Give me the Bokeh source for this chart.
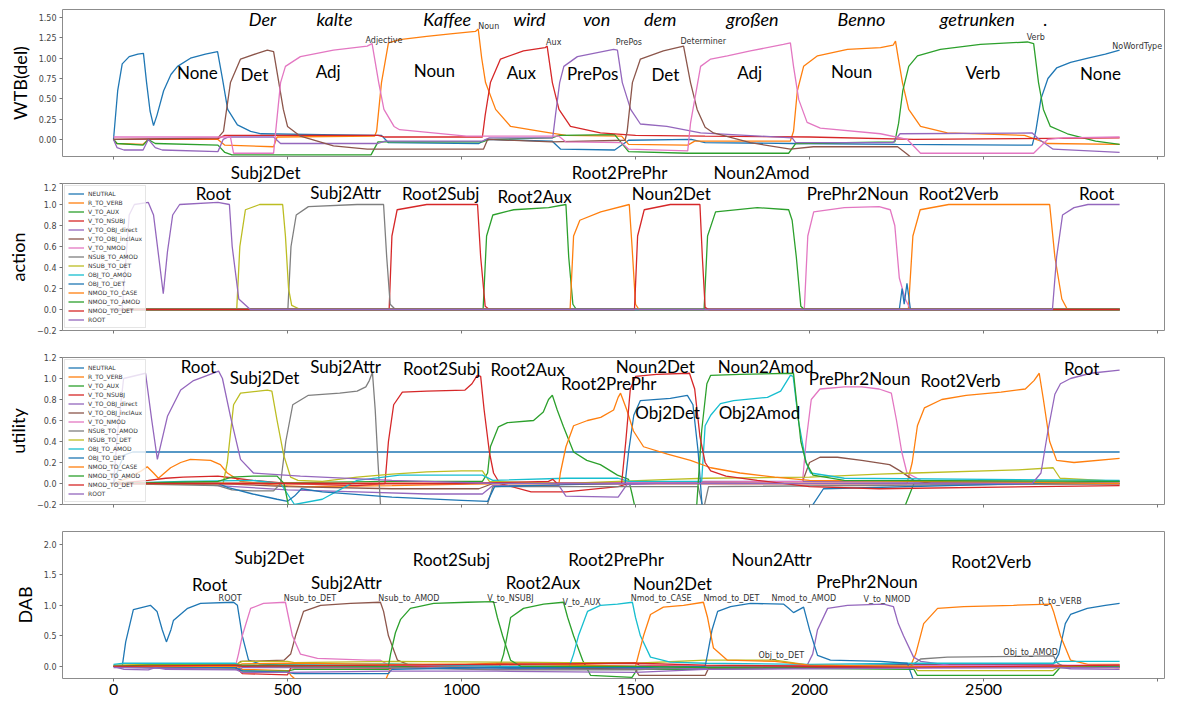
from bokeh.plotting import figure
from bokeh.layouts import column
from bokeh.models import Label, Legend, LegendItem, Range1d, FixedTicker
from bokeh.embed import file_html
from bokeh.resources import INLINE

BLUE = "#1f77b4"; ORANGE = "#ff7f0e"; GREEN = "#2ca02c"; RED = "#d62728"; PURPLE = "#9467bd"
BROWN = "#8c564b"; PINK = "#e377c2"; GRAY = "#7f7f7f"; OLIVE = "#bcbd22"; CYAN = "#17becf"

# ---------------- x axis ----------------
X_TICKS = [0, 500, 1000, 1500, 2000, 2500, 3000]
X_TICK_LABELS = ["0", "500", "1000", "1500", "2000", "2500", ""]

# ---------------- panel 1: WTB(del) (time ms, value) ----------------
WTB_NONE = [(0, 0.0), (12, 0.6), (25, 0.93), (45, 1.02), (70, 1.05), (86, 1.06), (95, 0.7), (105, 0.35), (115, 0.17),
            (125, 0.3), (144, 0.6), (165, 0.8), (184, 0.9), (221, 1.0), (264, 1.05), (299, 1.08), (313, 0.75),
            (328, 0.37), (356, 0.18), (394, 0.1), (424, 0.07), (600, 0.06), (770, 0.05), (790, -0.04), (1050, -0.05),
            (1070, 0.0), (1260, -0.02), (1285, -0.12), (1440, -0.13), (1480, -0.01), (1660, 0.0), (1700, -0.04),
            (1950, -0.05), (2250, -0.06), (2640, -0.07), (2650, 0.1), (2665, 0.5), (2685, 0.75), (2710, 0.88),
            (2750, 0.95), (2800, 1.0), (2850, 1.05), (2891, 1.1)]
WTB_NOUN = [(0, 0.0), (10, -0.05), (85, -0.06), (100, 0.0), (300, 0.0), (320, -0.07), (460, -0.09), (470, 0.03),
            (750, 0.04), (756, 0.1), (770, 0.7), (790, 1.19), (822, 1.23), (900, 1.27), (968, 1.3), (1040, 1.33),
            (1048, 1.36), (1058, 1.0), (1069, 0.7), (1098, 0.37), (1141, 0.16), (1227, 0.1), (1300, 0.05),
            (1460, 0.04), (1480, -0.06), (1650, -0.07), (1670, -0.02), (1945, -0.02), (1954, 0.1), (1965, 0.6),
            (1983, 0.9), (2023, 1.03), (2109, 1.11), (2204, 1.13), (2240, 1.16), (2247, 1.21), (2255, 1.0),
            (2267, 0.7), (2285, 0.37), (2319, 0.16), (2396, 0.08), (2618, 0.05), (2684, -0.05), (2891, -0.06)]
WTB_VERB = [(0, 0.0), (10, -0.05), (85, -0.07), (100, 0.0), (120, -0.05), (300, -0.07), (320, -0.16), (340, -0.19),
            (740, -0.19), (760, -0.03), (1060, -0.03), (1080, 0.0), (1260, 0.02), (1280, 0.05), (1440, 0.06),
            (1480, -0.15), (1650, -0.17), (1940, -0.17), (1960, -0.05), (2245, -0.03), (2256, 0.2), (2268, 0.6),
            (2285, 0.9), (2310, 1.03), (2376, 1.11), (2491, 1.17), (2626, 1.2), (2644, 1.18), (2658, 0.7),
            (2672, 0.37), (2692, 0.16), (2741, 0.07), (2822, -0.02), (2891, -0.06)]
WTB_AUX = [(0, 0.0), (300, 0.01), (320, 0.05), (760, 0.05), (780, 0.03), (1060, 0.03), (1068, 0.3), (1083, 0.7),
           (1112, 0.99), (1178, 1.09), (1240, 1.13), (1246, 1.15), (1261, 0.7), (1280, 0.37), (1313, 0.16),
           (1399, 0.08), (1500, 0.05), (1700, 0.04), (2000, 0.03), (2300, 0.0), (2891, 0.02)]
WTB_PREPOS = [(0, 0.0), (10, -0.1), (30, -0.13), (85, -0.13), (100, 0.0), (120, -0.1), (140, -0.13), (300, -0.15),
              (315, 0.0), (330, 0.03), (460, 0.03), (480, -0.05), (760, -0.05), (780, -0.02), (1060, -0.02),
              (1080, 0.02), (1262, 0.02), (1270, 0.3), (1282, 0.7), (1294, 0.9), (1333, 1.02), (1437, 1.11),
              (1448, 1.1), (1462, 0.7), (1486, 0.37), (1514, 0.19), (1590, 0.16), (1687, 0.08), (1950, 0.02),
              (1960, -0.04), (2240, -0.04), (2260, 0.07), (2640, 0.08), (2660, 0.0), (2700, -0.12), (2891, -0.16)]
WTB_DET = [(0, 0.0), (300, 0.02), (316, 0.1), (336, 0.7), (365, 0.99), (413, 1.06), (442, 1.1), (460, 1.08),
           (475, 0.7), (488, 0.37), (500, 0.16), (537, 0.04), (632, -0.08), (729, -0.12), (1063, -0.12),
           (1075, 0.0), (1260, -0.03), (1470, -0.01), (1476, 0.1), (1491, 0.7), (1514, 0.99), (1580, 1.09),
           (1638, 1.15), (1658, 0.7), (1677, 0.37), (1700, 0.15), (1724, 0.08), (1830, -0.04), (1945, -0.12),
           (2011, -0.09), (2253, -0.09), (2280, -0.18), (2300, -0.25), (2891, -0.25)]
WTB_ADJ = [(0, 0.03), (336, 0.03), (345, -0.17), (460, -0.17), (466, 0.1), (480, 0.7), (494, 0.9), (537, 1.02),
           (632, 1.1), (729, 1.15), (743, 1.18), (762, 0.7), (777, 0.37), (806, 0.16), (822, 0.12), (1014, 0.04),
           (1280, 0.04), (1300, -0.03), (1460, -0.04), (1480, -0.12), (1650, -0.14), (1658, 0.2), (1687, 0.9),
           (1716, 0.99), (1764, 1.03), (1830, 1.09), (1925, 1.17), (1945, 1.19), (1954, 0.9), (1969, 0.49),
           (1993, 0.21), (2031, 0.14), (2204, 0.07), (2281, 0.0), (2319, -0.17), (2644, -0.17), (2684, 0.0),
           (2730, 0.02), (2891, 0.03)]

WTB_SERIES = [("NoWordType", BLUE, WTB_NONE), ("Noun", ORANGE, WTB_NOUN), ("Verb", GREEN, WTB_VERB),
              ("Aux", RED, WTB_AUX), ("PrePos", PURPLE, WTB_PREPOS), ("Determiner", BROWN, WTB_DET),
              ("Adjective", PINK, WTB_ADJ)]

# ---------------- panel 2: action ----------------
ZERO = [(0, 0.0), (2891, 0.0)]
ACT_NEUTRAL = ZERO
ACT_R_TO_VERB = [(0, 0.0), (2284, 0.0), (2297, 0.7), (2318, 0.95), (2400, 1.0), (2690, 1.0), (2705, 0.5),
                 (2725, 0.1), (2741, 0.0), (2891, 0.0)]
ACT_V_TO_AUX = [(0, 0.0), (1062, 0.0), (1072, 0.7), (1090, 0.9), (1150, 0.95), (1250, 0.97), (1300, 1.0),
                (1308, 0.5), (1320, 0.05), (1330, 0.0), (2891, 0.0)]
ACT_V_TO_NSUBJ = [(0, 0.0), (792, 0.0), (800, 0.7), (815, 0.95), (900, 1.0), (1046, 1.0), (1055, 0.5),
                  (1068, 0.03), (1080, 0.0), (2891, 0.0)]
ACT_V_TO_OBJ_DIRECT = ZERO
ACT_V_TO_OBJ_INCLAUX = ZERO
ACT_V_TO_NMOD = [(0, 0.0), (1985, 0.0), (1995, 0.7), (2012, 0.93), (2100, 0.97), (2200, 0.98), (2232, 0.95),
                 (2245, 0.8), (2258, 0.3), (2275, 0.1), (2290, 0.0), (2891, 0.0)]
ACT_NSUB_TO_AMOD = [(0, 0.0), (501, 0.0), (510, 0.6), (525, 0.9), (560, 0.98), (700, 1.0), (776, 1.0),
                    (785, 0.5), (795, 0.05), (810, 0.0), (2891, 0.0)]
ACT_NSUB_TO_DET = [(0, 0.0), (354, 0.0), (363, 0.6), (379, 0.95), (420, 1.0), (486, 1.0), (494, 0.7),
                   (503, 0.2), (512, 0.04), (537, 0.0), (2891, 0.0)]
ACT_OBJ_TO_AMOD = ZERO
ACT_OBJ_TO_DET = [(0, 0.0), (2258, 0.0), (2266, 0.2), (2272, 0.05), (2280, 0.25), (2290, 0.0), (2891, 0.0)]
ACT_NMOD_TO_CASE = [(0, 0.0), (1312, 0.0), (1322, 0.7), (1340, 0.85), (1400, 0.93), (1482, 1.0), (1490, 0.6),
                    (1500, 0.05), (1510, 0.0), (2891, 0.0)]
ACT_NMOD_TO_AMOD = [(0, 0.0), (1697, 0.0), (1707, 0.7), (1730, 0.93), (1850, 0.97), (1940, 0.95), (1950, 0.85),
                    (1962, 0.5), (1975, 0.03), (1985, 0.0), (2891, 0.0)]
ACT_NMOD_TO_DET = [(0, 0.0), (1497, 0.0), (1506, 0.7), (1525, 0.95), (1600, 1.0), (1685, 1.0), (1692, 0.5),
                   (1700, 0.02), (1710, 0.0), (2891, 0.0)]
ACT_ROOT = [(0, 0.0), (25, 0.0), (45, 0.9), (60, 1.0), (100, 1.02), (115, 0.9), (130, 0.5), (143, 0.15),
            (155, 0.55), (170, 0.9), (190, 1.0), (300, 1.02), (333, 1.0), (341, 0.6), (360, 0.1), (393, 0.0),
            (2698, 0.0), (2710, 0.5), (2727, 0.9), (2760, 0.97), (2800, 1.0), (2891, 1.0)]

# ---------------- panel 3: utility ----------------
UT_NEUTRAL = [(0, 0.0), (15, 0.15), (30, 0.27), (55, 0.3), (2891, 0.3)]
UT_R_TO_VERB = [(0, 0.0), (40, 0.05), (80, 0.12), (97, 0.16), (115, 0.1), (129, 0.05), (164, 0.15), (193, 0.2),
                (221, 0.23), (279, 0.22), (307, 0.18), (327, 0.1), (365, 0.02), (480, -0.02), (550, -0.03),
                (800, -0.02), (1100, 0.0), (2280, 0.0), (2295, 0.2), (2310, 0.55), (2330, 0.72), (2380, 0.8),
                (2450, 0.84), (2550, 0.87), (2620, 0.9), (2645, 0.98), (2660, 1.05), (2672, 0.8), (2690, 0.4),
                (2710, 0.22), (2760, 0.2), (2891, 0.24)]
UT_V_TO_AUX = [(0, 0.0), (300, 0.0), (800, 0.02), (1060, 0.02), (1075, 0.1), (1083, 0.35), (1106, 0.54),
               (1132, 0.58), (1207, 0.6), (1235, 0.68), (1250, 0.8), (1261, 0.84), (1275, 0.7), (1293, 0.54),
               (1322, 0.3), (1360, 0.22), (1399, 0.18), (1448, 0.08), (1480, 0.04), (1490, -0.1), (1500, -0.25),
               (2270, -0.25), (2300, 0.0), (2891, 0.0)]
UT_V_TO_NSUBJ = [(0, 0.0), (100, 0.03), (150, 0.05), (200, 0.06), (300, 0.07), (350, 0.05), (400, 0.03),
                 (500, 0.0), (700, -0.02), (780, 0.0), (790, 0.4), (805, 0.75), (830, 0.87), (900, 0.88),
                 (1010, 0.89), (1030, 0.95), (1045, 1.03), (1055, 1.02), (1065, 0.7), (1080, 0.3), (1092, 0.1),
                 (1110, 0.0), (1200, -0.08), (1300, -0.08), (1450, -0.03), (1480, 0.0), (2891, 0.0)]
UT_V_TO_OBJ_DIRECT = [(0, 0.0), (200, 0.0), (300, -0.02), (500, -0.06), (700, -0.08), (900, -0.1), (1060, -0.1),
                      (1090, -0.02), (1280, -0.02), (1300, -0.12), (1450, -0.13), (1475, -0.01), (1700, 0.02),
                      (2000, 0.02), (2891, 0.0)]
UT_V_TO_OBJ_INCLAUX = [(0, 0.0), (300, 0.0), (500, -0.03), (800, -0.05), (1050, -0.05), (1090, 0.0), (1980, 0.02),
                       (2000, 0.2), (2030, 0.25), (2080, 0.25), (2150, 0.22), (2230, 0.18), (2260, 0.12),
                       (2300, 0.03), (2350, 0.0), (2891, 0.0)]
UT_V_TO_NMOD = [(0, 0.0), (1000, 0.0), (1980, 0.02), (1990, 0.4), (2005, 0.8), (2030, 0.9), (2100, 0.92),
                (2150, 0.92), (2200, 0.9), (2235, 0.86), (2250, 0.6), (2265, 0.3), (2280, 0.1), (2320, 0.03),
                (2891, 0.0)]
UT_NSUB_TO_AMOD = [(0, 0.0), (300, -0.02), (340, -0.06), (400, -0.07), (460, -0.07), (480, 0.0), (495, 0.4),
                   (515, 0.75), (560, 0.84), (650, 0.86), (700, 0.88), (725, 0.92), (735, 0.98), (744, 1.06),
                   (752, 0.7), (760, 0.2), (768, -0.25), (1070, -0.25), (1090, -0.03), (1680, -0.03), (1695, -0.25),
                   (1710, -0.03), (2891, 0.0)]
UT_NSUB_TO_DET = [(0, 0.0), (315, 0.0), (327, 0.2), (345, 0.75), (365, 0.86), (442, 0.89), (455, 0.88),
                  (470, 0.6), (489, 0.27), (509, 0.06), (530, 0.03), (600, 0.02), (700, 0.06), (800, 0.09),
                  (900, 0.11), (1000, 0.12), (1060, 0.12), (1080, 0.02), (1300, 0.0), (1600, 0.04), (1700, 0.05),
                  (2000, 0.06), (2200, 0.09), (2300, 0.1), (2600, 0.13), (2700, 0.15), (2720, 0.05), (2891, 0.02)]
UT_OBJ_TO_AMOD = [(0, 0.0), (200, 0.02), (400, 0.03), (480, 0.0), (520, -0.2), (600, -0.15), (700, 0.03),
                  (822, 0.08), (1060, 0.08), (1090, 0.03), (1300, 0.05), (1450, 0.05), (1480, 0.02), (1690, 0.02),
                  (1700, 0.55), (1716, 0.65), (1744, 0.76), (1782, 0.79), (1879, 0.82), (1917, 0.88), (1945, 1.03),
                  (1953, 1.02), (1968, 0.6), (1990, 0.2), (2003, 0.1), (2100, 0.05), (2891, 0.03)]
UT_OBJ_TO_DET = [(0, 0.0), (300, 0.0), (330, -0.04), (400, -0.1), (470, -0.15), (500, -0.17), (520, -0.12),
                 (540, -0.05), (600, -0.08), (800, -0.13), (1000, -0.16), (1075, -0.17), (1095, -0.03),
                 (1300, -0.01), (1470, 0.0), (1480, 0.3), (1495, 0.65), (1514, 0.79), (1600, 0.81), (1649, 0.84),
                 (1665, 0.75), (1680, 0.3), (1692, -0.25), (2000, -0.25), (2040, -0.05), (2891, 0.02)]
UT_NMOD_TO_CASE = [(0, 0.0), (1280, 0.0), (1284, 0.1), (1300, 0.35), (1322, 0.55), (1362, 0.6), (1400, 0.63),
                   (1437, 0.7), (1450, 0.82), (1457, 0.86), (1475, 0.7), (1494, 0.5), (1523, 0.35), (1592, 0.28),
                   (1658, 0.22), (1716, 0.15), (1800, 0.1), (1900, 0.06), (2000, 0.03), (2891, 0.0)]
UT_NMOD_TO_AMOD = [(0, 0.0), (300, 0.02), (340, 0.06), (400, 0.07), (470, 0.07), (490, 0.0), (505, -0.25),
                   (1675, -0.25), (1690, 0.5), (1705, 0.95), (1716, 1.03), (1800, 1.04), (1954, 1.05),
                   (1962, 0.8), (1975, 0.4), (1990, 0.2), (2010, 0.08), (2100, 0.03), (2891, 0.02)]
UT_NMOD_TO_DET = [(0, 0.0), (1000, 0.0), (1250, 0.02), (1262, 0.04), (1275, 0.0), (1460, 0.0), (1472, 0.4),
                  (1485, 0.9), (1500, 1.02), (1560, 1.04), (1655, 1.05), (1670, 0.9), (1685, 0.45), (1700, 0.2),
                  (1716, 0.12), (1760, 0.07), (1850, 0.03), (2000, -0.03), (2200, -0.05), (2891, -0.02)]
UT_ROOT = [(0, 0.0), (12, 0.5), (29, 1.0), (92, 1.05), (110, 0.6), (126, 0.23), (155, 0.64), (193, 0.89),
           (230, 0.98), (270, 1.03), (302, 1.07), (313, 1.0), (336, 0.64), (365, 0.23), (402, 0.1), (537, 0.07),
           (800, 0.03), (1100, 0.0), (2640, 0.0), (2665, 0.1), (2685, 0.5), (2705, 0.85), (2721, 0.95),
           (2750, 1.0), (2807, 1.05), (2891, 1.08)]

ACTION_SERIES = [("NEUTRAL", BLUE, ACT_NEUTRAL), ("R_TO_VERB", ORANGE, ACT_R_TO_VERB),
                 ("V_TO_AUX", GREEN, ACT_V_TO_AUX), ("V_TO_NSUBJ", RED, ACT_V_TO_NSUBJ),
                 ("V_TO_OBJ_direct", PURPLE, ACT_V_TO_OBJ_DIRECT), ("V_TO_OBJ_inclAux", BROWN, ACT_V_TO_OBJ_INCLAUX),
                 ("V_TO_NMOD", PINK, ACT_V_TO_NMOD), ("NSUB_TO_AMOD", GRAY, ACT_NSUB_TO_AMOD),
                 ("NSUB_TO_DET", OLIVE, ACT_NSUB_TO_DET), ("OBJ_TO_AMOD", CYAN, ACT_OBJ_TO_AMOD),
                 ("OBJ_TO_DET", BLUE, ACT_OBJ_TO_DET), ("NMOD_TO_CASE", ORANGE, ACT_NMOD_TO_CASE),
                 ("NMOD_TO_AMOD", GREEN, ACT_NMOD_TO_AMOD), ("NMOD_TO_DET", RED, ACT_NMOD_TO_DET),
                 ("ROOT", PURPLE, ACT_ROOT)]
UTILITY_SERIES = [("NEUTRAL", BLUE, UT_NEUTRAL), ("R_TO_VERB", ORANGE, UT_R_TO_VERB),
                  ("V_TO_AUX", GREEN, UT_V_TO_AUX), ("V_TO_NSUBJ", RED, UT_V_TO_NSUBJ),
                  ("V_TO_OBJ_direct", PURPLE, UT_V_TO_OBJ_DIRECT), ("V_TO_OBJ_inclAux", BROWN, UT_V_TO_OBJ_INCLAUX),
                  ("V_TO_NMOD", PINK, UT_V_TO_NMOD), ("NSUB_TO_AMOD", GRAY, UT_NSUB_TO_AMOD),
                  ("NSUB_TO_DET", OLIVE, UT_NSUB_TO_DET), ("OBJ_TO_AMOD", CYAN, UT_OBJ_TO_AMOD),
                  ("OBJ_TO_DET", BLUE, UT_OBJ_TO_DET), ("NMOD_TO_CASE", ORANGE, UT_NMOD_TO_CASE),
                  ("NMOD_TO_AMOD", GREEN, UT_NMOD_TO_AMOD), ("NMOD_TO_DET", RED, UT_NMOD_TO_DET),
                  ("ROOT", PURPLE, UT_ROOT)]

# ---------------- panel 4: DAB ----------------
DAB_ROOT = [(0, 0.0), (25, 0.0), (35, 0.4), (57, 0.93), (106, 1.0), (125, 0.9), (140, 0.6), (152, 0.4), (165, 0.6),
            (172, 0.75), (213, 0.95), (250, 1.03), (345, 1.05), (356, 1.0), (370, 0.5), (388, 0.1), (420, 0.04),
            (500, 0.02), (800, 0.0), (1100, -0.03), (1500, -0.05), (1700, -0.03), (2300, 0.03), (2700, 0.03),
            (2716, 0.2), (2735, 0.7), (2750, 0.85), (2798, 0.95), (2850, 1.0), (2891, 1.03)]
DAB_R_TO_VERB = [(0, 0.0), (100, 0.03), (350, 0.02), (370, -0.05), (500, -0.07), (510, -0.15), (530, -0.25),
                 (780, -0.25), (800, 0.02), (1100, 0.02), (1300, 0.03), (1500, 0.0), (2000, -0.02), (2290, 0.0),
                 (2305, 0.2), (2328, 0.7), (2368, 0.95), (2443, 0.98), (2586, 1.0), (2693, 1.02), (2701, 0.9),
                 (2721, 0.5), (2750, 0.1), (2800, 0.03), (2891, 0.03)]
DAB_V_TO_AUX = [(0, 0.0), (100, -0.02), (350, -0.03), (370, -0.08), (500, -0.08), (520, -0.05), (790, -0.05),
                (800, 0.0), (1110, 0.0), (1121, 0.2), (1141, 0.8), (1178, 0.95), (1236, 1.02), (1293, 1.05),
                (1305, 0.8), (1322, 0.5), (1348, 0.1), (1371, -0.15), (1490, -0.18), (1505, -0.05), (1700, -0.05),
                (2300, 0.0), (2891, 0.0)]
DAB_RED_A = [(0, 0.0), (100, -0.01), (350, 0.0), (370, -0.12), (500, -0.14), (510, -0.02), (800, -0.03),
             (1100, 0.05), (1500, 0.06), (1510, 0.02), (1700, 0.0), (2300, 0.02), (2700, 0.02), (2891, -0.02)]
DAB_V_TO_NMOD = [(0, 0.0), (30, -0.05), (100, -0.06), (120, -0.02), (150, -0.05), (350, -0.06), (370, -0.02),
                 (800, -0.02), (1100, -0.05), (1500, -0.04), (1990, -0.02), (2009, 0.2), (2023, 0.6), (2052, 0.95),
                 (2109, 1.0), (2213, 1.02), (2241, 0.98), (2255, 0.7), (2270, 0.5), (2299, 0.15), (2320, 0.08),
                 (2400, 0.02), (2700, 0.0), (2750, -0.04), (2891, -0.05)]
DAB_NSUB_TO_AMOD = [(0, 0.0), (350, 0.0), (365, 0.08), (490, 0.1), (509, 0.2), (523, 0.5), (546, 0.9), (595, 1.0),
                    (681, 1.03), (767, 1.05), (776, 0.9), (790, 0.5), (816, 0.1), (850, 0.02), (1100, 0.0),
                    (1500, -0.05), (1510, -0.15), (1700, -0.15), (1710, -0.03), (2891, 0.0)]
DAB_NSUB_TO_DET = [(0, 0.0), (350, -0.01), (359, 0.2), (370, 0.5), (394, 0.95), (431, 1.03), (494, 1.05),
                   (503, 0.8), (514, 0.5), (537, 0.2), (586, 0.13), (730, 0.1), (767, 0.1), (790, 0.02),
                   (1100, 0.0), (2891, 0.02)]
DAB_OBJ_TO_AMOD = [(0, 0.0), (350, 0.0), (800, -0.02), (1100, -0.06), (1500, -0.06), (1700, 0.0), (2290, 0.0),
                   (2319, 0.12), (2396, 0.15), (2701, 0.17), (2713, 0.05), (2730, 0.0), (2891, 0.0)]
DAB_OBJ_TO_DET = [(0, 0.02), (100, 0.03), (350, 0.03), (370, 0.08), (500, 0.08), (520, 0.06), (800, 0.08),
                  (1100, 0.07), (1300, 0.06), (1500, 0.05), (1700, 0.1), (1900, 0.1), (2000, 0.02), (2300, 0.0),
                  (2310, -0.07), (2700, -0.07), (2720, 0.0), (2891, 0.0)]
DAB_NMOD_TO_CASE = [(0, 0.03), (30, 0.05), (350, 0.05), (370, 0.0), (500, 0.03), (800, 0.04), (1100, 0.0),
                    (1310, 0.0), (1322, 0.2), (1336, 0.5), (1362, 0.9), (1399, 1.0), (1448, 1.02), (1491, 1.05),
                    (1500, 0.8), (1514, 0.5), (1543, 0.15), (1600, 0.07), (1700, 0.05), (2000, 0.03), (2300, 0.05),
                    (2700, 0.05), (2720, 0.08), (2891, 0.08)]
DAB_NMOD_TO_AMOD = [(0, 0.0), (350, -0.02), (370, -0.07), (500, -0.1), (520, -0.12), (790, -0.12), (800, -0.05),
                    (1100, -0.02), (1500, -0.02), (1700, 0.0), (1707, 0.2), (1720, 0.6), (1736, 0.9), (1773, 0.98),
                    (1830, 1.03), (1925, 1.02), (1940, 0.95), (1954, 0.88), (1970, 0.93), (1983, 0.97), (2000, 0.6),
                    (2023, 0.18), (2060, 0.1), (2204, 0.08), (2281, 0.05), (2300, -0.25), (2891, -0.25)]
DAB_NMOD_TO_DET = [(0, 0.0), (350, 0.0), (370, 0.04), (500, 0.05), (800, 0.03), (1100, 0.04), (1500, 0.0),
                   (1509, 0.2), (1523, 0.5), (1543, 0.85), (1580, 0.97), (1638, 1.0), (1695, 1.05), (1707, 0.8),
                   (1724, 0.3), (1764, 0.1), (1900, 0.08), (2000, 0.02), (2300, 0.0), (2891, -0.02)]
DAB_V_TO_NSUBJ = [(0, 0.0), (100, 0.02), (350, 0.02), (790, 0.0), (796, 0.2), (810, 0.55), (825, 0.77),
                  (853, 0.95), (920, 1.03), (1017, 1.05), (1092, 1.06), (1103, 0.8), (1118, 0.5), (1141, 0.1),
                  (1170, 0.0), (1500, 0.0), (1700, -0.02), (2300, -0.05), (2310, -0.15), (2700, -0.15),
                  (2720, -0.02), (2891, 0.0)]
DAB_RED_B = [(0, 0.0), (350, 0.02), (370, 0.0), (800, 0.02), (1100, 0.03), (1500, 0.05), (1700, 0.02),
             (2300, -0.02), (2891, 0.02)]
DAB_PURPLE_B = [(0, -0.02), (350, -0.05), (370, -0.1), (500, -0.1), (800, -0.08), (1100, -0.08), (1500, -0.1),
                (1700, -0.05), (2300, -0.03), (2891, -0.02)]

DAB_SERIES = [(BLUE, DAB_ROOT), (ORANGE, DAB_R_TO_VERB), (GREEN, DAB_V_TO_AUX), (RED, DAB_RED_A),
              (PURPLE, DAB_V_TO_NMOD), (BROWN, DAB_NSUB_TO_AMOD), (PINK, DAB_NSUB_TO_DET), (GRAY, DAB_OBJ_TO_AMOD),
              (OLIVE, DAB_OBJ_TO_DET), (CYAN, DAB_NMOD_TO_CASE), (BLUE, DAB_NMOD_TO_AMOD), (ORANGE, DAB_NMOD_TO_DET),
              (GREEN, DAB_V_TO_NSUBJ), (RED, DAB_RED_B), (PURPLE, DAB_PURPLE_B)]

# ---------------- annotation texts (text, time ms, value) ----------------
WTB_BIG = [("None", 241, 0.83), ("Det", 405, 0.80), ("Adj", 617, 0.84), ("Noun", 922, 0.85), ("Aux", 1172, 0.83),
           ("PrePos", 1377, 0.81), ("Det", 1586, 0.80), ("Adj", 1828, 0.83), ("Noun", 2121, 0.84),
           ("Verb", 2498, 0.83), ("None", 2836, 0.81)]
WORDS = [("Der", 428), ("kalte", 635), ("Kaffee", 959), ("wird", 1195), ("von", 1388), ("dem", 1571),
         ("großen", 1836), ("Benno", 2149), ("getrunken", 2482), (".", 2678)]
WTB_SMALL = [("Adjective", 724, 1.22), ("Noun", 1048, 1.39), ("Aux", 1243, 1.19), ("PrePos", 1443, 1.19),
             ("Determiner", 1629, 1.2), ("Verb", 2624, 1.26), ("NoWordType", 2870, 1.15)]
# texts in the strip between panel 1 and panel 2 (time ms, pixels above the action frame)
STRIP_TEXT = [("Subj2Det", 437, 11), ("Root2PrePhr", 1454, 11), ("Noun2Amod", 1862, 11)]
ACT_TEXT = [("Root", 287, 1.105), ("Subj2Attr", 667, 1.11), ("Root2Subj", 940, 1.105),
            ("Root2Aux", 1210, 1.08), ("Noun2Det", 1603, 1.105), ("PrePhr2Noun", 2138, 1.105),
            ("Root2Verb", 2428, 1.105), ("Root", 2825, 1.105)]
UT_TEXT = [("Root", 244, 1.115), ("Subj2Det", 434, 1.011), ("Subj2Attr", 667, 1.115), ("Root2Subj", 943, 1.1),
           ("Root2Aux", 1190, 1.09), ("Root2PrePhr", 1423, 0.954), ("Noun2Det", 1557, 1.11),
           ("Obj2Det", 1592, 0.68), ("Noun2Amod", 1874, 1.11), ("Obj2Amod", 1856, 0.68),
           ("PrePhr2Noun", 2144, 1.0), ("Root2Verb", 2434, 0.98), ("Root", 2782, 1.1)]
DAB_TEXT = [("Subj2Det", 448, 1.78), ("Root", 276, 1.34), ("Subj2Attr", 669, 1.37), ("Root2Subj", 971, 1.75),
            ("Root2Aux", 1234, 1.37), ("Root2PrePhr", 1444, 1.75), ("Noun2Det", 1606, 1.36),
            ("Noun2Attr", 1891, 1.75), ("PrePhr2Noun", 2165, 1.39), ("Root2Verb", 2522, 1.72)]
DAB_SMALL = [("ROOT", 302, 1.11), ("Nsub_to_DET", 489, 1.11), ("Nsub_to_AMOD", 761, 1.11),
             ("V_to_NSUBJ", 1074, 1.11), ("V_to_AUX", 1290, 1.05), ("Nmod_to_CASE", 1486, 1.11),
             ("Nmod_to_DET", 1695, 1.11), ("Nmod_to_AMOD", 1891, 1.11), ("V_to_NMOD", 2155, 1.09),
             ("R_to_VERB", 2658, 1.06), ("Obj_to_DET", 1853, 0.18), ("Obj_to_AMOD", 2557, 0.23)]

LABEL_FONT = "Lato"
BIG = "17px"
XMIN, XMAX = -146.6, 3020
WIDTH = 1166


def make_fig(height, y0, y1, yticks, ylabels, ylabel, btop, bbottom, show_x=False):
    p = figure(width=WIDTH, height=height, x_range=Range1d(XMIN, XMAX), y_range=Range1d(y0, y1),
               output_backend="svg", toolbar_location=None,
               min_border_left=62, min_border_right=2, min_border_top=btop, min_border_bottom=bbottom)
    p.xgrid.visible = False
    p.ygrid.visible = False
    p.outline_line_color = "#8c8c8c"
    p.outline_line_width = 1
    p.background_fill_color = "white"
    p.border_fill_color = "white"
    for ax in (p.xaxis[0], p.yaxis[0]):
        ax.axis_line_color = None
        ax.major_tick_line_color = "#777777"
        ax.major_tick_out = 3
        ax.major_tick_in = 0
        ax.minor_tick_line_color = None
    p.yaxis.ticker = FixedTicker(ticks=yticks)
    p.yaxis.major_label_overrides = {t: l for t, l in zip(yticks, ylabels)}
    p.yaxis.major_label_text_font = "DejaVu Sans"
    p.yaxis.major_label_text_font_size = "8px"
    p.yaxis.major_label_text_color = "#444444"
    p.yaxis.major_label_standoff = 3
    p.yaxis.axis_label = ylabel
    p.yaxis.axis_label_text_font = LABEL_FONT
    p.yaxis.axis_label_text_font_size = "18px"
    p.yaxis.axis_label_text_font_style = "normal"
    p.yaxis.axis_label_text_color = "black"
    p.yaxis.axis_label_standoff = 5
    p.xaxis.ticker = FixedTicker(ticks=X_TICKS)
    if show_x:
        p.xaxis.major_label_overrides = {t: l for t, l in zip(X_TICKS, X_TICK_LABELS)}
        p.xaxis.major_label_text_font = LABEL_FONT
        p.xaxis.major_label_text_font_size = "16px"
        p.xaxis.major_label_text_color = "black"
        p.xaxis.major_label_standoff = 2
    else:
        p.xaxis.major_label_overrides = {t: "" for t in X_TICKS}
        p.xaxis.major_label_text_font_size = "1px"
        p.xaxis.major_label_text_color = None
        p.xaxis.major_label_standoff = 0
    return p


def add_text(p, text, x, y, size=BIG, font=LABEL_FONT, style="normal", align="center", color="black",
             baseline="middle"):
    p.add_layout(Label(x=x, y=y, text=text, text_font=font, text_font_size=size, text_font_style=style,
                       text_align=align, text_baseline=baseline, text_color=color))


def draw(p, color, pts, width=1.3, alpha=1.0):
    return p.line([q[0] for q in pts], [q[1] for q in pts], line_color=color, line_width=width, line_alpha=alpha)


def add_legend(p, items):
    leg = Legend(items=items, location="top_left", label_text_font="DejaVu Sans", label_text_font_size="6px",
                 label_text_color="#333333", label_height=9, glyph_height=9, glyph_width=16, spacing=0,
                 padding=3, margin=2, label_standoff=4, border_line_color="#cccccc", border_line_width=1,
                 background_fill_alpha=0.8)
    p.add_layout(leg)


# ---- panel 1
p1 = make_fig(161, -0.21, 1.60, [0, 0.25, 0.5, 0.75, 1.0, 1.25, 1.5],
              ["0.00", "0.25", "0.50", "0.75", "1.00", "1.25", "1.50"], "WTB(del)", 9, 5)
for name, color, pts in WTB_SERIES:
    draw(p1, color, pts)
for t, x, y in WTB_BIG:
    add_text(p1, t, x, y)
for t, x in WORDS:
    add_text(p1, t, x, 1.477, size="18px", style="italic")
for t, x, y in WTB_SMALL:
    add_text(p1, t, x, y, size="8px", font="DejaVu Sans", align="left", color="#333333")

# ---- strip holding the texts that sit just above the action panel
STRIP_H = 22
strip = figure(width=WIDTH, height=STRIP_H, x_range=Range1d(XMIN, XMAX), y_range=Range1d(0, STRIP_H),
               output_backend="svg", toolbar_location=None,
               min_border_left=62, min_border_right=2, min_border_top=0, min_border_bottom=0)
strip.axis.visible = False
strip.grid.visible = False
strip.outline_line_color = None
strip.background_fill_color = "white"
strip.border_fill_color = "white"
for t, x, y in STRIP_TEXT:
    add_text(strip, t, x, y)

# ---- panel 2
YT = [-0.2, 0.0, 0.2, 0.4, 0.6, 0.8, 1.0, 1.2]
YL = ["\u22120.2", "0.0", "0.2", "0.4", "0.6", "0.8", "1.0", "1.2"]
p2 = make_fig(156, -0.2, 1.2, YT, YL, "action", 0, 9)
items = []
for name, color, pts in ACTION_SERIES:
    r = draw(p2, color, pts)
    items.append(LegendItem(label=name, renderers=[r]))
add_legend(p2, items)
for t, x, y in ACT_TEXT:
    add_text(p2, t, x, y)

# ---- panel 3
p3 = make_fig(174, -0.2, 1.2, YT, YL, "utility", 18, 9)
items = []
for name, color, pts in UTILITY_SERIES:
    r = draw(p3, color, pts)
    items.append(LegendItem(label=name, renderers=[r]))
add_legend(p3, items)
for t, x, y in UT_TEXT:
    add_text(p3, t, x, y)

# ---- panel 4
p4 = make_fig(190, -0.2, 2.21, [0, 0.5, 1.0, 1.5, 2.0], ["0.0", "0.5", "1.0", "1.5", "2.0"], "DAB", 18, 25,
              show_x=True)
for color, pts in DAB_SERIES:
    draw(p4, color, pts)
for t, x, y in DAB_TEXT:
    add_text(p4, t, x, y)
for t, x, y in DAB_SMALL:
    add_text(p4, t, x, y, size="8px", font="DejaVu Sans", align="left", color="#333333")
add_text(p4, "[ms]", 2721, -0.33, size="17px")
add_text(p4, "time", 2891, -0.33, size="17px")

layout = column(p1, strip, p2, p3, p4, spacing=0)
open("out.html", "w").write(file_html(layout, INLINE))
